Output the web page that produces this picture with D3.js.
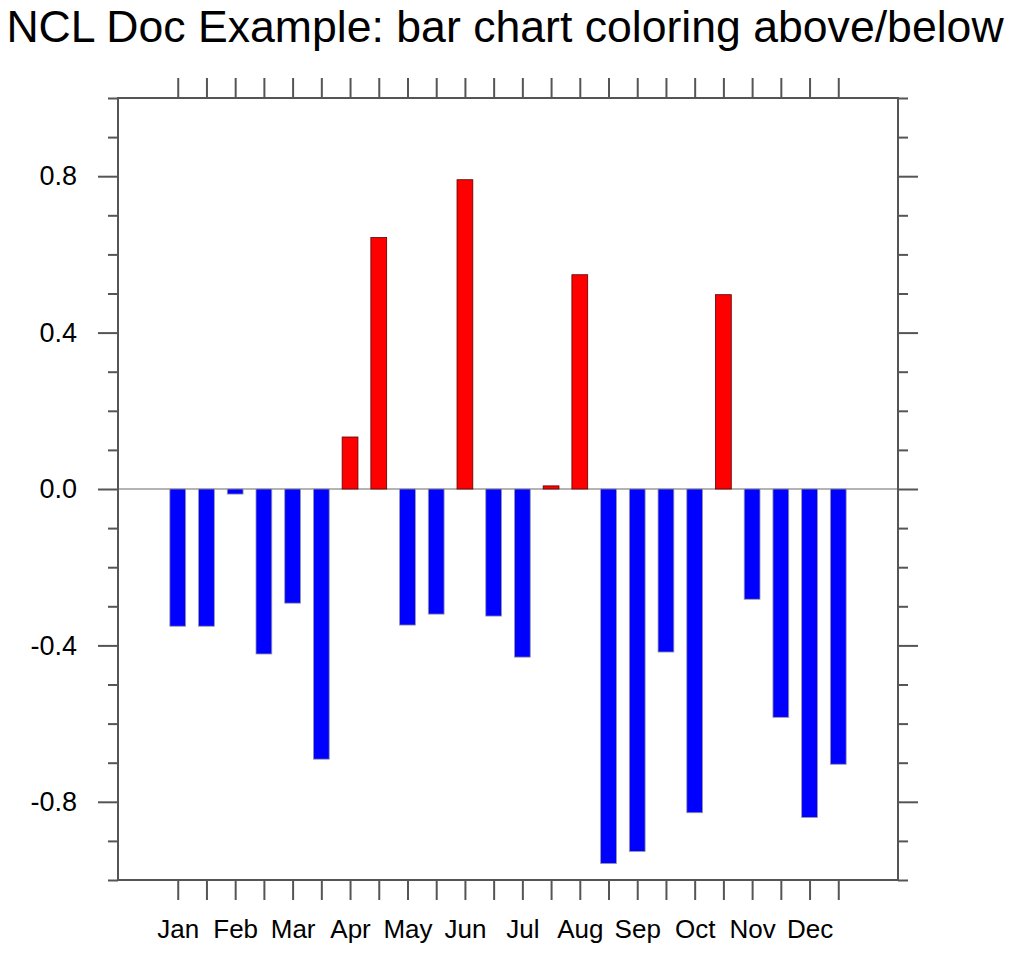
<!DOCTYPE html>
<html>
<head>
<meta charset="utf-8">
<script src="https://cdn.jsdelivr.net/npm/d3@7"></script>
<style>
  body { margin: 0; background: #fff; }
  text { font-family: "Liberation Sans", Arial, Helvetica, sans-serif; fill: #000; }
</style>
</head>
<body>
<div class="chart"></div>
<script>
// canvas size
var svgWidth = 1016;
var svgHeight = 954;

// plot frame inside the canvas
var margin = { top: 98, right: 118, bottom: 74, left: 118 };
var width = svgWidth - margin.left - margin.right;
var height = svgHeight - margin.top - margin.bottom;

// data: 24 bars, two per month
var barIndex = d3.range(1, 25);
var barValues = [
  -0.351, -0.351, -0.013, -0.422, -0.292, -0.691,
  0.133, 0.643, -0.348, -0.320, 0.791, -0.325,
  -0.430, 0.008, 0.548, -0.958, -0.927, -0.417,
  -0.828, 0.497, -0.282, -0.584, -0.840, -0.704
];
// month labels sit on every other bar
var monthLabels = ["Jan", "Feb", "Mar", "Apr", "May", "Jun",
  "Jul", "Aug", "Sep", "Oct", "Nov", "Dec"];
var yMajorTicks = [-0.8, -0.4, 0.0, 0.4, 0.8];
var yMinorTicks = [-1.0, -0.9, -0.7, -0.6, -0.5, -0.3, -0.2, -0.1,
  0.1, 0.2, 0.3, 0.5, 0.6, 0.7, 0.9, 1.0];

var svg = d3
  .select(".chart")
  .append("svg")
  .attr("width", svgWidth)
  .attr("height", svgHeight);

var chartGroup = svg
  .append("g")
  .attr("transform", `translate(${margin.left}, ${margin.top})`);

// scales
var xScale = d3.scaleLinear().domain([-1.08, 26.08]).range([0, width]);
var yScale = d3.scaleLinear().domain([-1, 1]).range([height, 0]);
var barWidth = xScale(0.55) - xScale(0);

// zero reference line
chartGroup
  .append("line")
  .attr("x1", 0)
  .attr("x2", width)
  .attr("y1", yScale(0))
  .attr("y2", yScale(0))
  .attr("stroke", "#b4b4b4")
  .attr("stroke-width", 2);

// bars, red above zero and blue below
chartGroup
  .selectAll("rect.bar")
  .data(barValues)
  .enter()
  .append("rect")
  .attr("class", "bar")
  .attr("x", (d, i) => xScale(barIndex[i]) - barWidth / 2)
  .attr("y", (d) => yScale(Math.max(d, 0)))
  .attr("width", barWidth)
  .attr("height", (d) => Math.abs(yScale(d) - yScale(0)))
  .attr("fill", (d) => (d > 0 ? "#ff0000" : "#0000ff"))
  .attr("stroke", (d) => (d > 0 ? "#5a0000" : "#9a9aa0"))
  .attr("stroke-width", 0.8);

// axes, all ticks point outward
function styleAxis(g) {
  g.select(".domain").remove();
  g.selectAll(".tick line").attr("stroke", "#555").attr("stroke-width", 2);
  g.selectAll(".tick text").attr("fill", "#000");
}

// plain hyphen for negatives, like the original
var yFormat = (d) => d3.format(".1f")(d).replace("\u2212", "-");

chartGroup
  .append("g")
  .attr("transform", `translate(0, ${height})`)
  .call(
    d3.axisBottom(xScale)
      .tickValues(barIndex)
      .tickSize(20)
      .tickPadding(20)
      .tickFormat((d) => (d % 2 === 1 ? monthLabels[(d - 1) / 2] : ""))
  )
  .call(styleAxis)
  .selectAll(".tick text")
  .style("font-size", "26px");

chartGroup
  .append("g")
  .call(d3.axisTop(xScale).tickValues(barIndex).tickSize(20).tickFormat(""))
  .call(styleAxis);

chartGroup
  .append("g")
  .call(
    d3.axisLeft(yScale)
      .tickValues(yMajorTicks)
      .tickSize(20)
      .tickPadding(21)
      .tickFormat(yFormat)
  )
  .call(styleAxis)
  .selectAll(".tick text")
  .style("font-size", "27px");

chartGroup
  .append("g")
  .call(d3.axisLeft(yScale).tickValues(yMinorTicks).tickSize(10).tickFormat(""))
  .call(styleAxis);

chartGroup
  .append("g")
  .attr("transform", `translate(${width}, 0)`)
  .call(d3.axisRight(yScale).tickValues(yMajorTicks).tickSize(20).tickFormat(""))
  .call(styleAxis);

chartGroup
  .append("g")
  .attr("transform", `translate(${width}, 0)`)
  .call(d3.axisRight(yScale).tickValues(yMinorTicks).tickSize(10).tickFormat(""))
  .call(styleAxis);

// frame
chartGroup
  .append("rect")
  .attr("width", width)
  .attr("height", height)
  .attr("fill", "none")
  .attr("stroke", "#555")
  .attr("stroke-width", 2);

// title
svg
  .append("text")
  .attr("x", 505)
  .attr("y", 42)
  .attr("text-anchor", "middle")
  .style("font-size", "44.6px")
  .text("NCL Doc Example: bar chart coloring above/below");
</script>
</body>
</html>
